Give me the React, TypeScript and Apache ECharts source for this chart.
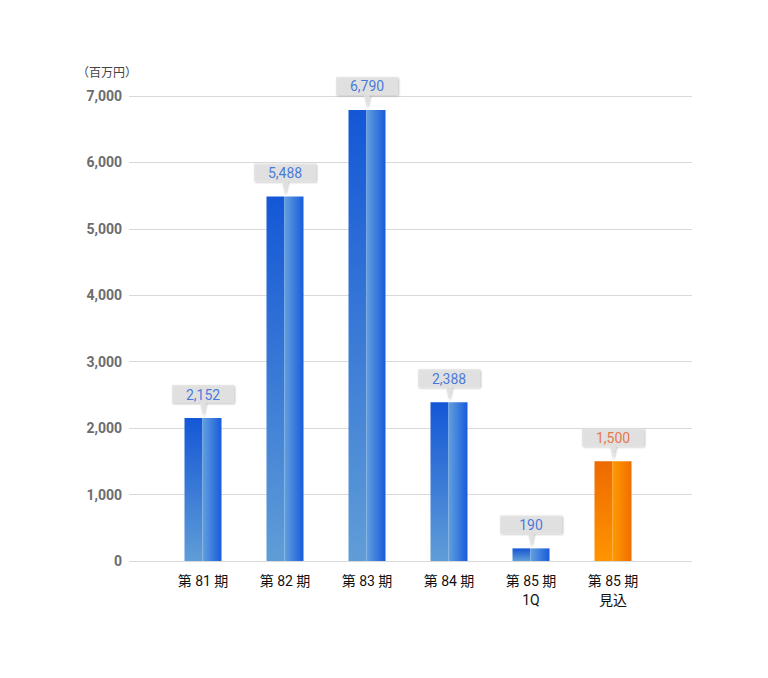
import React, { useEffect, useRef } from "react";
import * as echarts from "echarts";

const categories = ["第 81 期", "第 82 期", "第 83 期", "第 84 期", "第 85 期\n1Q", "第 85 期\n見込"];
const values = [2152, 5488, 6790, 2388, 190, 1500];
const isForecast = [false, false, false, false, false, true];
const yTicks = { min: 0, max: 7000, interval: 1000 };
const unitLabel = "（百万円）";

const FONT = "Roboto, 'Noto Sans CJK JP', sans-serif";

const blueLeft = new echarts.graphic.LinearGradient(0, 0, 0, 1, [
  { offset: 0, color: "#1457d6" },
  { offset: 1, color: "#609dd7" },
]);
const blueRight = new echarts.graphic.LinearGradient(0, 0, 1, 0, [
  { offset: 0, color: "#62a0de" },
  { offset: 1, color: "#195bdc" },
]);
const orangeLeft = new echarts.graphic.LinearGradient(0, 0, 0, 1, [
  { offset: 0, color: "#ee6a00" },
  { offset: 1, color: "#ff9400" },
]);
const orangeRight = new echarts.graphic.LinearGradient(0, 0, 1, 0, [
  { offset: 0, color: "#ff9a00" },
  { offset: 1, color: "#f06e00" },
]);

const calloutPath = "path://M0,0 L62,0 L62,18 L34,18 L31,31 L28,18 L0,18 Z";

export default function App() {
  const ref = useRef<HTMLDivElement>(null);
  useEffect(() => {
    document.body.style.margin = "0";
    const chart = echarts.init(ref.current!, undefined, { renderer: "svg" });
    const top = 96;
    const bottom = 678 - 561;
    chart.setOption({
      animation: false,
      backgroundColor: "#ffffff",
      grid: [
        { left: 129, right: 76, top, bottom },
        { left: 162, right: 114, top, bottom },
      ],
      xAxis: [
        { type: "category", gridIndex: 0, data: categories, show: false },
        {
          type: "category",
          gridIndex: 1,
          data: categories,
          axisLine: { show: false },
          axisTick: { show: false },
          axisLabel: {
            color: "#111",
            fontSize: 14,
            fontFamily: FONT,
            lineHeight: 19,
            margin: 10,
            interval: 0,
          },
        },
      ],
      yAxis: [
        {
          type: "value",
          gridIndex: 0,
          ...yTicks,
          axisLine: { show: false },
          axisTick: { show: false },
          splitLine: { lineStyle: { color: "#d9d9d9", width: 1 } },
          axisLabel: {
            color: "#6c6c6c",
            fontSize: 14,
            fontWeight: "bold",
            fontFamily: FONT,
            margin: 7,
            formatter: (v: number) => v.toLocaleString("en-US"),
          },
        },
        { type: "value", gridIndex: 1, ...yTicks, show: false },
      ],
      graphic: [
        {
          type: "text",
          left: 77,
          top: 67,
          style: { text: unitLabel, fill: "#444", fontSize: 12, fontFamily: FONT },
        },
      ],
      series: [
        {
          type: "bar",
          xAxisIndex: 1,
          yAxisIndex: 1,
          barWidth: 18,
          barGap: "0%",
          data: values.map((v, i) => ({
            value: v,
            itemStyle: { color: isForecast[i] ? orangeLeft : blueLeft },
          })),
        },
        {
          type: "bar",
          xAxisIndex: 1,
          yAxisIndex: 1,
          barWidth: 19,
          barGap: "0%",
          data: values.map((v, i) => ({
            value: v,
            itemStyle: { color: isForecast[i] ? orangeRight : blueRight },
          })),
        },
        {
          type: "scatter",
          xAxisIndex: 1,
          yAxisIndex: 1,
          symbol: calloutPath,
          symbolSize: [62, 31],
          symbolOffset: [0, -17.5],
          itemStyle: {
            color: "#e0e0e0",
            shadowBlur: 2,
            shadowOffsetX: 1,
            shadowOffsetY: 1,
            shadowColor: "rgba(0,0,0,0.3)",
          },
          z: 5,
          data: values.map((v, i) => ({
            value: v,
            label: {
              show: true,
              position: "inside",
              offset: [0, -6],
              formatter: () => v.toLocaleString("en-US"),
              color: isForecast[i] ? "#e85a1c" : "#1a5ed8",
              fontSize: 14,
              fontFamily: FONT,
            },
          })),
        },
      ],
    });
    return () => chart.dispose();
  }, []);
  return <div ref={ref} style={{ width: 768, height: 678 }} />;
}
